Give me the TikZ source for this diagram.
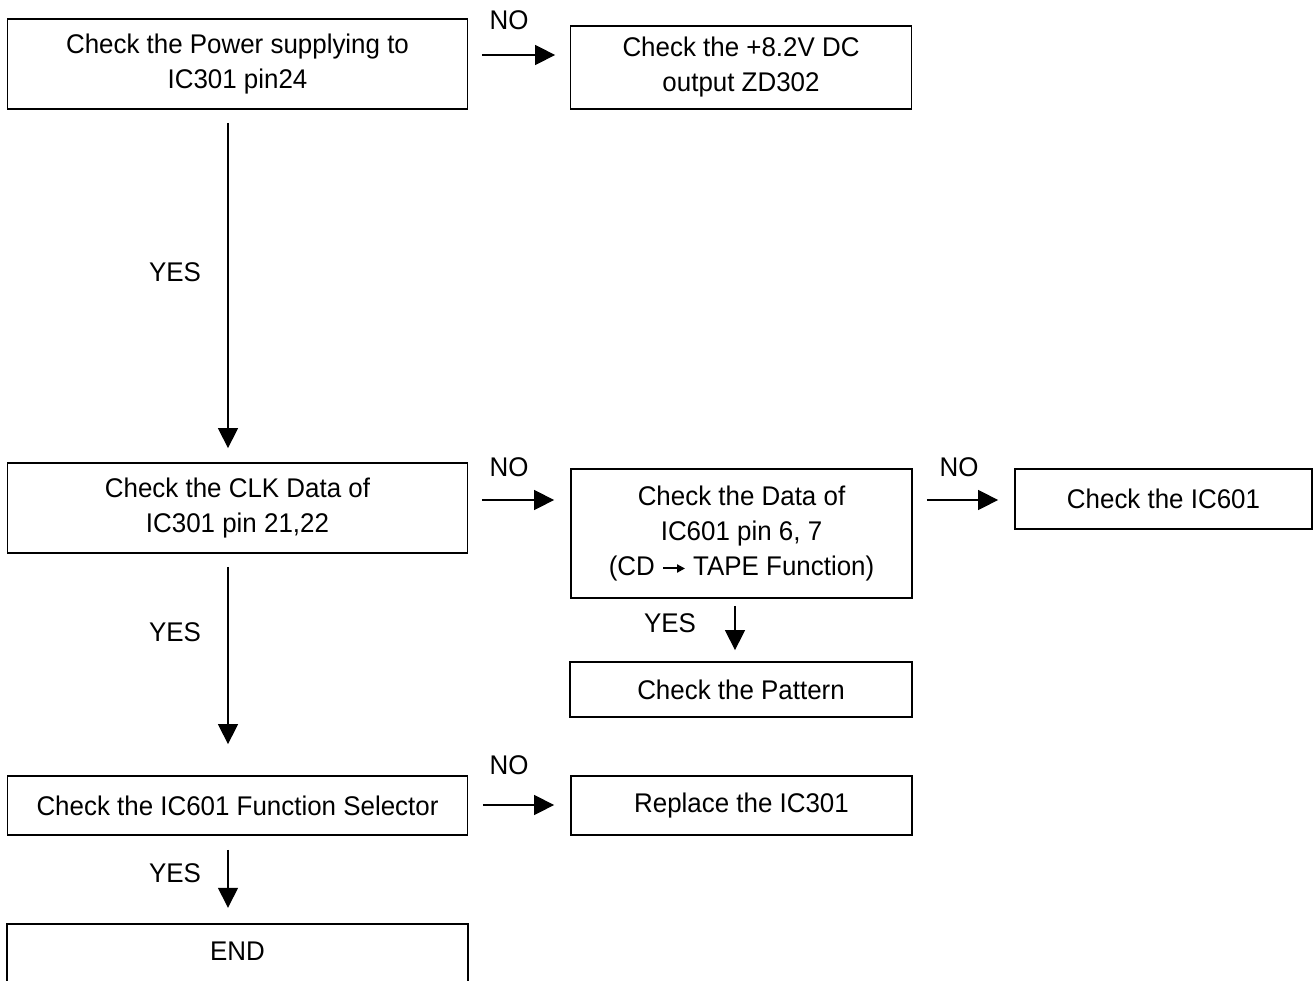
\documentclass[tikz,border=0pt]{standalone}
\usepackage{fontspec}
\setmainfont{Liberation Sans}[FakeStretch=0.96]
\usetikzlibrary{arrows.meta,calc}
\newcommand{\smallarrow}{\tikz[baseline=0pt,x=1pt,y=1pt]{\draw[line width=2pt,-{Triangle[length=8pt,width=8pt]}] (0,7) -- (22,7);}}
\begin{document}
\begin{tikzpicture}[x=1pt,y=-1pt,
  box/.style={draw, line width=1.8pt, inner sep=0pt, align=center, font=\fontsize{27}{35}\selectfont},
  lbl/.style={inner sep=0pt, font=\fontsize{27}{35}\selectfont},
  arr/.style={line width=1.4pt, -{Triangle[length=20pt,width=20pt]}}]
\clip (0,0) rectangle (1313,981);
\fill[white] (0,0) rectangle (1313,981);
% boxes
\node[box, minimum width=460pt, minimum height=90pt] (b1) at (237.5,64) {Check the Power supplying to\\IC301 pin24};
\node[box, minimum width=341pt, minimum height=83pt] (b2) at (741,67.5) {Check the +8.2V DC\\output ZD302};
\node[box, minimum width=460pt, minimum height=90pt] (b3) at (237.5,508) {Check the CLK Data of\\IC301 pin 21,22};
\node[box, minimum width=341pt, minimum height=129pt] (b4) at (741.5,533.5) {Check the Data of\\IC601 pin 6, 7\\(CD \smallarrow{} TAPE Function)};
\node[box, minimum width=297pt, minimum height=60pt] (b5) at (1163.5,499) {Check the IC601};
\node[box, minimum width=342pt, minimum height=55pt] (b6) at (741,689.5) {Check the Pattern};
\node[box, minimum width=460pt, minimum height=59pt] (b7) at (237.5,805.5) {Check the IC601 Function Selector};
\node[box, minimum width=341pt, minimum height=59pt] (b8) at (741.5,805.5) {Replace the IC301};
\node[lbl, minimum width=460pt, minimum height=54pt] (b9) at (237.5,951) {END};
\draw[line width=1.8pt] ($(b9.south west)+(0,20)$) -- (b9.north west) -- (b9.north east) -- ($(b9.south east)+(0,20)$);
% connectors
\draw[arr] ($(b1.east)+(13.5,-9)$) -- ($(b2.west)+(-14.5,-12.5)$);
\draw[arr] ($(b1.south)+(-9.5,13)$) -- ($(b3.north)+(-9.5,-14)$);
\draw[arr] ($(b3.east)+(13.5,-8)$) -- ($(b4.west)+(-16,-33.5)$);
\draw[arr] ($(b4.east)+(14,-33.5)$) -- ($(b5.west)+(-16,1)$);
\draw[arr] ($(b3.south)+(-9.5,13)$) -- ($(b7.north)+(-9.5,-31)$);
\draw[arr] ($(b4.south)+(-6.5,7)$) -- ($(b6.north)+(-6,-11)$);
\draw[arr] ($(b7.east)+(14.5,-0.5)$) -- ($(b8.west)+(-16,-0.5)$);
\draw[arr] ($(b7.south)+(-9.5,14)$) -- ($(b9.north)+(-9.5,-16)$);
% labels
\node[lbl] (n1) at (509,20) {NO};
\node[lbl] (y1) at (175,272) {YES};
\node[lbl] (n2) at (509,467) {NO};
\node[lbl] (n3) at (959,467) {NO};
\node[lbl] (y2) at (175,632) {YES};
\node[lbl] (y3) at (670,623) {YES};
\node[lbl] (n4) at (509,765) {NO};
\node[lbl] (y4) at (175,873) {YES};
\end{tikzpicture}
\end{document}
